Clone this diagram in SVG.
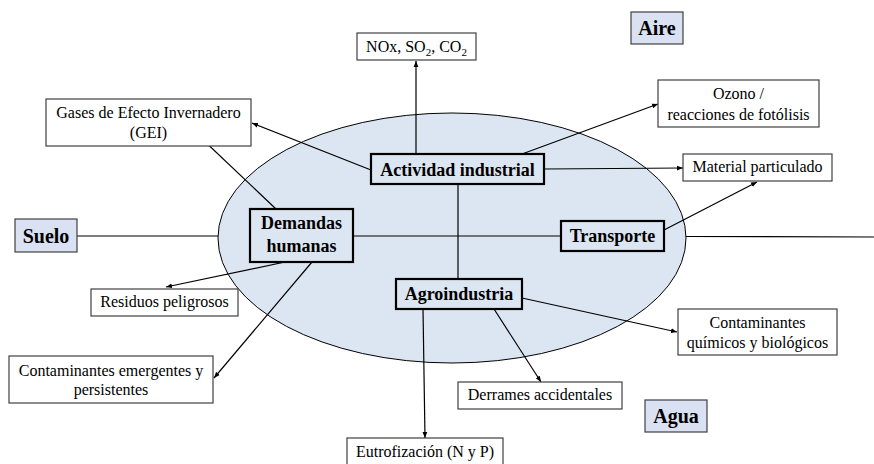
<svg xmlns="http://www.w3.org/2000/svg" width="874" height="464" viewBox="0 0 874 464" font-family="'Liberation Serif', 'Times New Roman', 'DejaVu Serif', serif">
<defs>
<marker id="ah" viewBox="0 0 10 10" refX="10" refY="5" markerWidth="6" markerHeight="6" markerUnits="userSpaceOnUse" orient="auto">
<path d="M0,1 L10,5 L0,9 Z" fill="#000"/>
</marker>
<style>
text{font-family:'Liberation Serif','Times New Roman','DejaVu Serif',serif;fill:#000;text-anchor:middle}
.s{font-size:16px}
.n{font-size:18px;font-weight:bold}
.r{font-size:20px;font-weight:bold}
.box{fill:#fff;stroke:#404040;stroke-width:1.2}
.node{fill:#dce6f2;stroke:#000;stroke-width:2.2}
.reg{fill:#d9e1f2;stroke:#404040;stroke-width:1.2}
.c line{stroke:#000;stroke-width:1.2;fill:none}
.c line.a{marker-end:url(#ah)}
</style>
</defs>
<rect width="874" height="464" fill="#fff"/>
<ellipse id="zone" cx="452" cy="238" rx="234" ry="125" fill="#dce6f2" stroke="#000" stroke-width="1"/>
<g class="c" id="connectors">
<line x1="77" y1="236" x2="218" y2="236"/>
<line x1="353" y1="236" x2="561" y2="236"/>
<line x1="686" y1="236.5" x2="874" y2="237"/>
<line x1="458" y1="184" x2="458" y2="279"/>
<line class="a" x1="416" y1="154" x2="416" y2="61"/>
<line class="a" x1="371" y1="170" x2="252" y2="123"/>
<line class="a" x1="276" y1="209" x2="199" y2="136"/>
<line class="a" x1="522" y1="154" x2="658" y2="104"/>
<line class="a" x1="544" y1="169" x2="683" y2="168"/>
<line class="a" x1="664" y1="230" x2="757" y2="182"/>
<line class="a" x1="285" y1="262" x2="166" y2="287"/>
<line class="a" x1="312" y1="262" x2="214" y2="378"/>
<line class="a" x1="423" y1="309" x2="425" y2="438"/>
<line class="a" x1="494" y1="309" x2="541" y2="382"/>
<line class="a" x1="522" y1="298" x2="677" y2="332"/>
</g>
<g id="aire"><rect class="reg" x="631" y="12" width="52" height="32"/><text class="r" x="657" y="35">Aire</text></g>
<g id="suelo"><rect class="reg" x="15" y="219" width="62" height="33"/><text class="r" x="46" y="243">Suelo</text></g>
<g id="agua"><rect class="reg" x="645" y="400" width="62" height="32"/><text class="r" x="676" y="423">Agua</text></g>
<g id="actividad"><rect class="node" x="371" y="154" width="173" height="30"/><text class="n" x="457.5" y="176">Actividad industrial</text></g>
<g id="demandas"><rect class="node" x="250" y="209" width="103" height="53"/><text class="n" x="301.5" y="229">Demandas</text><text class="n" x="301.5" y="252">humanas</text></g>
<g id="transporte"><rect class="node" x="561" y="221" width="103" height="30"/><text class="n" x="612.5" y="242">Transporte</text></g>
<g id="agroindustria"><rect class="node" x="396" y="279" width="126" height="30"/><text class="n" x="459" y="300">Agroindustria</text></g>
<g id="nox"><rect class="box" x="357" y="33" width="119" height="27"/><text class="s" x="416.5" y="52">NOx, SO<tspan font-size="11" dy="4">2</tspan><tspan dy="-4">, CO</tspan><tspan font-size="11" dy="4">2</tspan></text></g>
<g id="gei"><rect class="box" x="46" y="99" width="205" height="47"/><text class="s" x="148.5" y="118">Gases de Efecto Invernadero</text><text class="s" x="148.5" y="138">(GEI)</text></g>
<g id="ozono"><rect class="box" x="658" y="80" width="161" height="47"/><text class="s" x="738.5" y="99">Ozono /</text><text class="s" x="738.5" y="120">reacciones de fotólisis</text></g>
<g id="material"><rect class="box" x="683" y="154" width="149" height="27"/><text class="s" x="757.5" y="172">Material particulado</text></g>
<g id="residuos"><rect class="box" x="91" y="289" width="147" height="27"/><text class="s" x="164.5" y="307">Residuos peligrosos</text></g>
<g id="emergentes"><rect class="box" x="9" y="356" width="204" height="47"/><text class="s" x="111" y="376">Contaminantes emergentes y</text><text class="s" x="111" y="395">persistentes</text></g>
<g id="quimicos"><rect class="box" x="678" y="309" width="159" height="46"/><text class="s" x="757.5" y="328">Contaminantes</text><text class="s" x="757.5" y="348">químicos y biológicos</text></g>
<g id="derrames"><rect class="box" x="458" y="382" width="164" height="27"/><text class="s" x="540" y="400">Derrames accidentales</text></g>
<g id="eutrofizacion"><rect class="box" x="347" y="438" width="156" height="30"/><text class="s" x="425" y="457">Eutrofización (N y P)</text></g>
</svg>
